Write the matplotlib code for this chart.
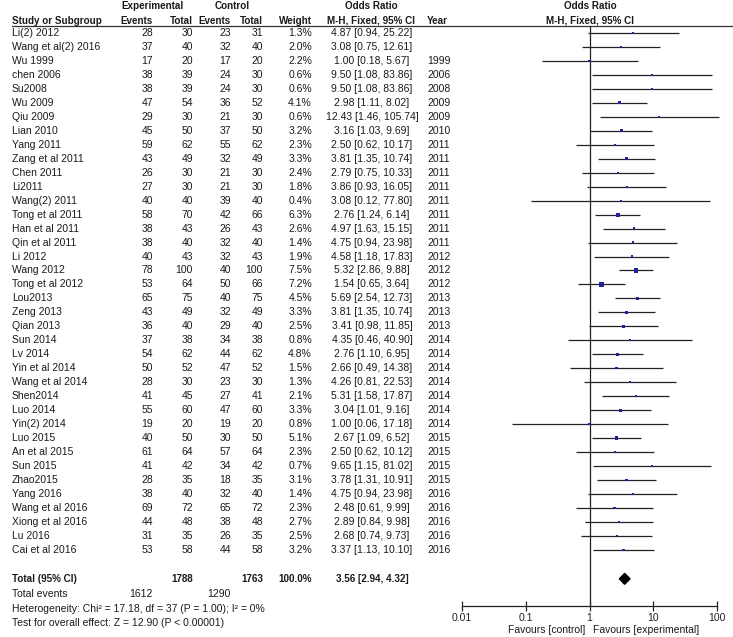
import matplotlib
matplotlib.use("Agg")
import matplotlib.pyplot as plt
import numpy as np

plt.rcParams['font.family'] = ['Liberation Sans', 'DejaVu Sans']

# data
studies = ["Li(2) 2012", "Wang et al(2) 2016", "Wu 1999", "chen 2006", "Su2008", "Wu 2009",
           "Qiu 2009", "Lian 2010", "Yang 2011", "Zang et al 2011", "Chen 2011", "Li2011",
           "Wang(2) 2011", "Tong et al 2011", "Han et al 2011", "Qin et al 2011", "Li 2012",
           "Wang 2012", "Tong et al 2012", "Lou2013", "Zeng 2013", "Qian 2013", "Sun 2014",
           "Lv 2014", "Yin et al 2014", "Wang et al 2014", "Shen2014", "Luo 2014", "Yin(2) 2014",
           "Luo 2015", "An et al 2015", "Sun 2015", "Zhao2015", "Yang 2016", "Wang et al 2016",
           "Xiong et al 2016", "Lu 2016", "Cai et al 2016"]
exp_events = [28, 37, 17, 38, 38, 47, 29, 45, 59, 43, 26, 27, 40, 58, 38, 38, 40, 78, 53, 65, 43, 36, 37,
              54, 50, 28, 41, 55, 19, 40, 61, 41, 28, 38, 69, 44, 31, 53]
exp_total = [30, 40, 20, 39, 39, 54, 30, 50, 62, 49, 30, 30, 40, 70, 43, 40, 43, 100, 64, 75, 49, 40, 38,
             62, 52, 30, 45, 60, 20, 50, 64, 42, 35, 40, 72, 48, 35, 58]
ctl_events = [23, 32, 17, 24, 24, 36, 21, 37, 55, 32, 21, 21, 39, 42, 26, 32, 32, 40, 50, 40, 32, 29, 34,
              44, 47, 23, 27, 47, 19, 30, 57, 34, 18, 32, 65, 38, 26, 44]
ctl_total = [31, 40, 20, 30, 30, 52, 30, 50, 62, 49, 30, 30, 40, 66, 43, 40, 43, 100, 66, 75, 49, 40, 38,
             62, 52, 30, 41, 60, 20, 50, 64, 42, 35, 40, 72, 48, 35, 58]
weight = [1.3, 2.0, 2.2, 0.6, 0.6, 4.1, 0.6, 3.2, 2.3, 3.3, 2.4, 1.8, 0.4, 6.3, 2.6, 1.4, 1.9, 7.5, 7.2,
          4.5, 3.3, 2.5, 0.8, 4.8, 1.5, 1.3, 2.1, 3.3, 0.8, 5.1, 2.3, 0.7, 3.1, 1.4, 2.3, 2.7, 2.5, 3.2]
odds = [4.87, 3.08, 1.00, 9.50, 9.50, 2.98, 12.43, 3.16, 2.50, 3.81, 2.79, 3.86, 3.08, 2.76, 4.97, 4.75,
        4.58, 5.32, 1.54, 5.69, 3.81, 3.41, 4.35, 2.76, 2.66, 4.26, 5.31, 3.04, 1.00, 2.67, 2.50, 9.65,
        3.78, 4.75, 2.48, 2.89, 2.68, 3.37]
ci_lo = [0.94, 0.75, 0.18, 1.08, 1.08, 1.11, 1.46, 1.03, 0.62, 1.35, 0.75, 0.93, 0.12, 1.24, 1.63, 0.94,
         1.18, 2.86, 0.65, 2.54, 1.35, 0.98, 0.46, 1.10, 0.49, 0.81, 1.58, 1.01, 0.06, 1.09, 0.62, 1.15,
         1.31, 0.94, 0.61, 0.84, 0.74, 1.13]
ci_hi = [25.22, 12.61, 5.67, 83.86, 83.86, 8.02, 105.74, 9.69, 10.17, 10.74, 10.33, 16.05, 77.80, 6.14,
         15.15, 23.98, 17.83, 9.88, 3.64, 12.73, 10.74, 11.85, 40.90, 6.95, 14.38, 22.53, 17.87, 9.16,
         17.18, 6.52, 10.12, 81.02, 10.91, 23.98, 9.99, 9.98, 9.73, 10.10]
years = ["", "", "1999", "2006", "2008", "2009", "2009", "2010", "2011", "2011", "2011", "2011", "2011",
         "2011", "2011", "2011", "2012", "2012", "2012", "2013", "2013", "2013", "2014", "2014", "2014",
         "2014", "2014", "2014", "2014", "2015", "2015", "2015", "2015", "2016", "2016", "2016", "2016",
         "2016"]
total_exp, total_ctl = 1788, 1763
events_exp, events_ctl = 1612, 1290
pooled = (3.56, 2.94, 4.32)
ticks = [0.01, 0.1, 1, 10, 100]

W, H = 733, 637
fig = plt.figure(figsize=(W / 100, H / 100), dpi=100)
# overlay axes in pixel units for the table part
tb = fig.add_axes([0, 0, 1, 1])
tb.set_xlim(0, W)
tb.set_ylim(H, 0)
tb.axis("off")

row0, step = 33.0, 13.97
fs = 7.5
fsb = 7.1
tc = "#1a1a1a"

def rowy(i):
    return row0 + step * i

def t(x, y, s, ha="left", bold=False):
    tb.text(x, y, s, ha=ha, va="center", fontsize=fsb if bold else fs, color=tc,
            fontweight="bold" if bold else "normal")

# header
t(153, 6, "Experimental", ha="center", bold=True)
t(232, 6, "Control", ha="center", bold=True)
t(371, 6, "Odds Ratio", ha="center", bold=True)
t(590, 6, "Odds Ratio", ha="center", bold=True)
t(12, 20.5, "Study or Subgroup", bold=True)
t(153, 20.5, "Events", ha="right", bold=True)
t(193, 20.5, "Total", ha="right", bold=True)
t(231, 20.5, "Events", ha="right", bold=True)
t(263, 20.5, "Total", ha="right", bold=True)
t(312, 20.5, "Weight", ha="right", bold=True)
t(371, 20.5, "M-H, Fixed, 95% CI", ha="center", bold=True)
t(427, 20.5, "Year", bold=True)
t(590, 20.5, "M-H, Fixed, 95% CI", ha="center", bold=True)
tb.plot([12, W], [25.5, 25.5], color="#333333", lw=0.9)

for i, name in enumerate(studies):
    y = rowy(i)
    t(12, y, name)
    t(153, y, str(exp_events[i]), ha="right")
    t(193, y, str(exp_total[i]), ha="right")
    t(231, y, str(ctl_events[i]), ha="right")
    t(263, y, str(ctl_total[i]), ha="right")
    t(312, y, f"{weight[i]:.1f}%", ha="right")
    t(372, y, f"{odds[i]:.2f} [{ci_lo[i]:.2f}, {ci_hi[i]:.2f}]", ha="center")
    t(427, y, years[i])

ytot = rowy(len(studies) + 1) + 1
t(12, ytot, "Total (95% CI)", bold=True)
t(193, ytot, str(total_exp), ha="right", bold=True)
t(263, ytot, str(total_ctl), ha="right", bold=True)
t(312, ytot, "100.0%", ha="right", bold=True)
t(372, ytot, f"{pooled[0]:.2f} [{pooled[1]:.2f}, {pooled[2]:.2f}]", ha="center", bold=True)
t(12, 594, "Total events")
t(153, 594, str(events_exp), ha="right")
t(231, 594, str(events_ctl), ha="right")
t(12, 609, "Heterogeneity: Chi\u00b2 = 17.18, df = 37 (P = 1.00); I\u00b2 = 0%")
t(12, 622.5, "Test for overall effect: Z = 12.90 (P < 0.00001)")

# forest axes
x0, x1 = 462, 717
ytop, ybot = 25.5, 605.7
ax = fig.add_axes([x0 / W, (H - ybot) / H, (x1 - x0) / W, (ybot - ytop) / H])
ax.set_xscale("log")
ax.set_xlim(ticks[0], ticks[-1])
ax.set_ylim((ybot - row0) / step, (ytop - row0) / step)
ax.patch.set_alpha(0)
for s in ["top", "left", "right"]:
    ax.spines[s].set_visible(False)
ax.spines["bottom"].set_linewidth(0.9)
ax.spines["bottom"].set_color("#222222")
ax.set_yticks([])
ax.set_xticks(ticks)
ax.set_xticklabels(["0.01", "0.1", "1", "10", "100"])
ax.xaxis.set_minor_locator(matplotlib.ticker.NullLocator())
ax.tick_params(axis="x", direction="inout", length=7, width=0.9, labelsize=fs,
               colors="#222222", pad=1.5)
ax.axvline(1, color="#222222", lw=0.9)

rows = np.arange(len(studies))
ax.hlines(rows, ci_lo, ci_hi, color="#222222", lw=0.9, clip_on=False)
sizes = np.maximum(1.6, 1.1 * np.sqrt(weight))
ax.scatter(odds, rows, marker="s", s=sizes ** 2, color="#22229a", zorder=3, clip_on=False, lw=0)

r = len(studies) + 1 + 1 / step
est, lo, hi = pooled
ax.fill([lo, est, hi, est], [r, r - 0.39, r, r + 0.39], color="black", zorder=3)

tb.text(585, 630, "Favours [control]", ha="right", va="center", fontsize=fs, color=tc)
tb.text(593, 630, "Favours [experimental]", ha="left", va="center", fontsize=fs, color=tc)

fig.savefig("out.png", dpi=100)
